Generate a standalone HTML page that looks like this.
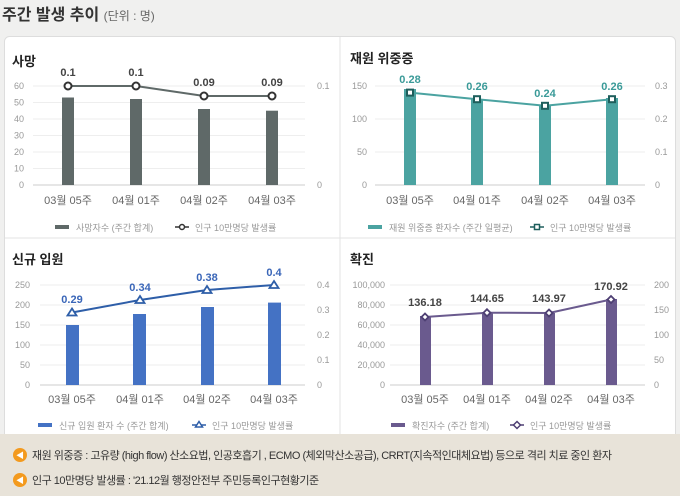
<!DOCTYPE html>
<html><head><meta charset="utf-8"><style>
body{margin:0;background:#f0f0ef;}
svg{display:block;font-family:"Liberation Sans","Noto Sans CJK KR",sans-serif;}
</style></head><body>
<svg width="680" height="496" viewBox="0 0 680 496" xmlns="http://www.w3.org/2000/svg">
<rect width="680" height="496" fill="#f0f0ef"/>
<text x="2" y="20" font-size="16" font-weight="bold" fill="#333">주간 발생 추이 <tspan font-size="12" font-weight="normal" fill="#666">(단위 : 명)</tspan></text>
<rect x="4.5" y="36.5" width="671" height="420" rx="5" fill="#fff" stroke="#ddd"/>
<line x1="340" y1="37" x2="340" y2="434" stroke="#e3e3e3"/>
<line x1="5" y1="238" x2="675" y2="238" stroke="#e3e3e3"/>
<rect x="0" y="434" width="680" height="62" fill="#e8e3d9"/>
<g font-size="9" fill="#999">
<!-- Panel 1 -->
<text x="12" y="66" font-size="13" font-weight="bold" fill="#222">사망</text>
<g stroke="#eee"><line x1="33" y1="86" x2="305" y2="86"/><line x1="33" y1="102.5" x2="305" y2="102.5"/><line x1="33" y1="119" x2="305" y2="119"/><line x1="33" y1="135.5" x2="305" y2="135.5"/><line x1="33" y1="152" x2="305" y2="152"/><line x1="33" y1="168.5" x2="305" y2="168.5"/><line x1="33" y1="185" x2="305" y2="185" stroke="#ccc"/></g>
<g text-anchor="end"><text x="24" y="89">60</text><text x="24" y="105.5">50</text><text x="24" y="122">40</text><text x="24" y="138.5">30</text><text x="24" y="155">20</text><text x="24" y="171.5">10</text><text x="24" y="188">0</text></g>
<text x="317" y="89">0.1</text><text x="317" y="188">0</text>
<g fill="#5f6968"><rect x="62" y="97.5" width="12" height="87.5"/><rect x="130" y="99" width="12" height="86"/><rect x="198" y="109" width="12" height="76"/><rect x="266" y="110.7" width="12" height="74.3"/></g>
<polyline points="68,86 136,86 204,96 272,96" fill="none" stroke="#5f6968" stroke-width="2"/>
<g fill="#fff" stroke="#333" stroke-width="2"><circle cx="68" cy="86" r="3.5"/><circle cx="136" cy="86" r="3.5"/><circle cx="204" cy="96" r="3.5"/><circle cx="272" cy="96" r="3.5"/></g>
<g font-size="11" font-weight="bold" fill="#444" text-anchor="middle"><text x="68" y="76">0.1</text><text x="136" y="76">0.1</text><text x="204" y="86">0.09</text><text x="272" y="86">0.09</text></g>
<g font-size="11" fill="#666" text-anchor="middle"><text x="68" y="204">03월 05주</text><text x="136" y="204">04월 01주</text><text x="204" y="204">04월 02주</text><text x="272" y="204">04월 03주</text></g>
<rect x="55" y="225" width="14" height="4" fill="#5f6968"/><text x="76" y="231">사망자수 (주간 합계)</text>
<line x1="175" y1="227" x2="189" y2="227" stroke="#333" stroke-width="1.5"/><circle cx="182" cy="227" r="2.5" fill="#fff" stroke="#333" stroke-width="1.5"/><text x="195" y="231">인구 10만명당 발생률</text>

<!-- Panel 2 -->
<text x="350" y="63" font-size="13" font-weight="bold" fill="#222">재원 위중증</text>
<g stroke="#eee"><line x1="375" y1="86" x2="645" y2="86"/><line x1="375" y1="119" x2="645" y2="119"/><line x1="375" y1="152" x2="645" y2="152"/><line x1="375" y1="185" x2="645" y2="185" stroke="#ccc"/></g>
<g text-anchor="end"><text x="367" y="89">150</text><text x="367" y="122">100</text><text x="367" y="155">50</text><text x="367" y="188">0</text></g>
<text x="655" y="89">0.3</text><text x="655" y="122">0.2</text><text x="655" y="155">0.1</text><text x="655" y="188">0</text>
<g fill="#4ba3a1"><rect x="404" y="89" width="12" height="96"/><rect x="471" y="99" width="12" height="86"/><rect x="539" y="105" width="12" height="80"/><rect x="606" y="98" width="12" height="87"/></g>
<polyline points="410,92.6 477,99.2 545,105.8 612,99.2" fill="none" stroke="#4ba3a1" stroke-width="2"/>
<g fill="#fff" stroke="#1e5e5c" stroke-width="2"><rect x="407" y="89.6" width="6" height="6"/><rect x="474" y="96.2" width="6" height="6"/><rect x="542" y="102.8" width="6" height="6"/><rect x="609" y="96.2" width="6" height="6"/></g>
<g font-size="11" font-weight="bold" fill="#3a9a98" text-anchor="middle"><text x="410" y="83">0.28</text><text x="477" y="90">0.26</text><text x="545" y="97">0.24</text><text x="612" y="90">0.26</text></g>
<g font-size="11" fill="#666" text-anchor="middle"><text x="410" y="204">03월 05주</text><text x="477" y="204">04월 01주</text><text x="545" y="204">04월 02주</text><text x="612" y="204">04월 03주</text></g>
<rect x="368" y="225" width="14" height="4" fill="#4ba3a1"/><text x="389" y="231">재원 위중증 환자수 (주간 일평균)</text>
<line x1="530" y1="227" x2="544" y2="227" stroke="#1e5e5c" stroke-width="1.5"/><rect x="534.5" y="224.5" width="5" height="5" fill="#fff" stroke="#1e5e5c" stroke-width="1.5"/><text x="550" y="231">인구 10만명당 발생률</text>

<!-- Panel 3 -->
<text x="12" y="264" font-size="13" font-weight="bold" fill="#222">신규 입원</text>
<g stroke="#eee"><line x1="40" y1="285" x2="305" y2="285"/><line x1="40" y1="305" x2="305" y2="305"/><line x1="40" y1="325" x2="305" y2="325"/><line x1="40" y1="345" x2="305" y2="345"/><line x1="40" y1="365" x2="305" y2="365"/><line x1="40" y1="385" x2="305" y2="385" stroke="#ccc"/></g>
<g text-anchor="end"><text x="30" y="288">250</text><text x="30" y="308">200</text><text x="30" y="328">150</text><text x="30" y="348">100</text><text x="30" y="368">50</text><text x="30" y="388">0</text></g>
<text x="317" y="288">0.4</text><text x="317" y="313">0.3</text><text x="317" y="338">0.2</text><text x="317" y="363">0.1</text><text x="317" y="388">0</text>
<g fill="#4472c4"><rect x="66" y="325" width="13" height="60"/><rect x="133" y="314" width="13" height="71"/><rect x="201" y="307" width="13" height="78"/><rect x="268" y="302.6" width="13" height="82.4"/></g>
<polyline points="72,312.5 140,300 207,290 274,285" fill="none" stroke="#2e5ea8" stroke-width="2"/>
<g fill="#fff" stroke="#2e5ea8" stroke-width="1.8"><polygon points="72,308.5 76.5,315.5 67.5,315.5"/><polygon points="140,296 144.5,303 135.5,303"/><polygon points="207,286 211.5,293 202.5,293"/><polygon points="274,281 278.5,288 269.5,288"/></g>
<g font-size="11" font-weight="bold" fill="#3a66b8" text-anchor="middle"><text x="72" y="303">0.29</text><text x="140" y="291">0.34</text><text x="207" y="281">0.38</text><text x="274" y="276">0.4</text></g>
<g font-size="11" fill="#666" text-anchor="middle"><text x="72" y="403">03월 05주</text><text x="140" y="403">04월 01주</text><text x="207" y="403">04월 02주</text><text x="274" y="403">04월 03주</text></g>
<rect x="38" y="423" width="14" height="4" fill="#4472c4"/><text x="59" y="429">신규 입원 환자 수 (주간 합계)</text>
<line x1="192" y1="425" x2="206" y2="425" stroke="#2e5ea8" stroke-width="1.5"/><polygon points="199,421.5 202.5,427 195.5,427" fill="#fff" stroke="#2e5ea8" stroke-width="1.5"/><text x="212" y="429">인구 10만명당 발생률</text>

<!-- Panel 4 -->
<text x="350" y="264" font-size="13" font-weight="bold" fill="#222">확진</text>
<g stroke="#eee"><line x1="390" y1="285" x2="645" y2="285"/><line x1="390" y1="305" x2="645" y2="305"/><line x1="390" y1="325" x2="645" y2="325"/><line x1="390" y1="345" x2="645" y2="345"/><line x1="390" y1="365" x2="645" y2="365"/><line x1="390" y1="385" x2="645" y2="385" stroke="#ccc"/></g>
<g text-anchor="end"><text x="385" y="288">100,000</text><text x="385" y="308">80,000</text><text x="385" y="328">60,000</text><text x="385" y="348">40,000</text><text x="385" y="368">20,000</text><text x="385" y="388">0</text></g>
<text x="654" y="288">200</text><text x="654" y="313">150</text><text x="654" y="338">100</text><text x="654" y="363">50</text><text x="654" y="388">0</text>
<g fill="#6a5a8e"><rect x="420" y="316" width="11" height="69"/><rect x="482" y="312" width="11" height="73"/><rect x="544" y="313" width="11" height="72"/><rect x="606" y="299" width="11" height="86"/></g>
<polyline points="425,317 487,312.7 549,313 611,299.5" fill="none" stroke="#6a5a8e" stroke-width="2"/>
<g fill="#fff" stroke="#4e3f73" stroke-width="1.8"><polygon points="425,313.5 428.5,317 425,320.5 421.5,317"/><polygon points="487,309.2 490.5,312.7 487,316.2 483.5,312.7"/><polygon points="549,309.5 552.5,313 549,316.5 545.5,313"/><polygon points="611,296 614.5,299.5 611,303 607.5,299.5"/></g>
<g font-size="11" font-weight="bold" fill="#444" text-anchor="middle"><text x="425" y="306">136.18</text><text x="487" y="302">144.65</text><text x="549" y="302">143.97</text><text x="611" y="290">170.92</text></g>
<g font-size="11" fill="#666" text-anchor="middle"><text x="425" y="403">03월 05주</text><text x="487" y="403">04월 01주</text><text x="549" y="403">04월 02주</text><text x="611" y="403">04월 03주</text></g>
<rect x="391" y="423" width="14" height="4" fill="#6a5a8e"/><text x="412" y="429">확진자수 (주간 합계)</text>
<line x1="510" y1="425" x2="524" y2="425" stroke="#4e3f73" stroke-width="1.5"/><polygon points="517,421.5 520.5,425 517,428.5 513.5,425" fill="#fff" stroke="#4e3f73" stroke-width="1.5"/><text x="530" y="429">인구 10만명당 발생률</text>
</g>
<!-- footer -->
<circle cx="20" cy="455" r="7" fill="#f39a1e"/><text x="20" y="458" font-size="8" fill="#fff" text-anchor="middle">◀</text>
<text x="32" y="459" font-size="11" fill="#333" letter-spacing="-0.5">재원 위중증 : 고유량 (high flow) 산소요법, 인공호흡기 , ECMO (체외막산소공급), CRRT(지속적인대체요법) 등으로 격리 치료 중인 환자</text>
<circle cx="20" cy="480" r="7" fill="#f39a1e"/><text x="20" y="483" font-size="8" fill="#fff" text-anchor="middle">◀</text>
<text x="32" y="484" font-size="11" fill="#333" letter-spacing="-0.5">인구 10만명당 발생률 : '21.12월 행정안전부 주민등록인구현황기준</text>
</svg>
</body></html>
